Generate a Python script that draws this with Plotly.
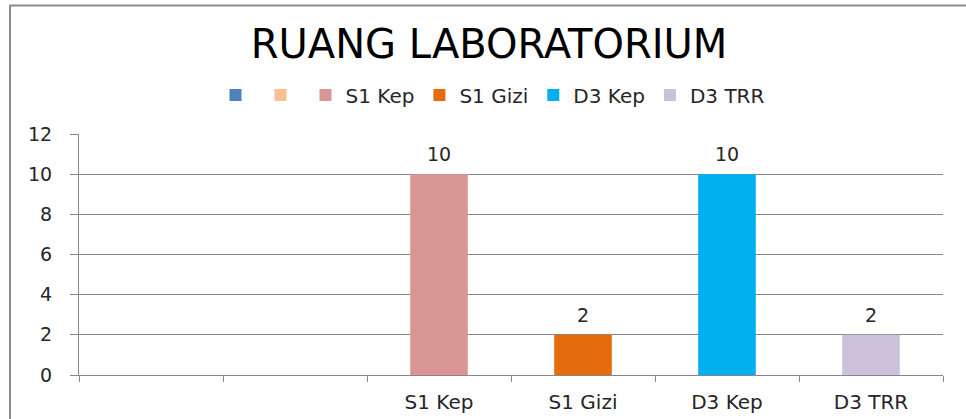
import plotly.graph_objects as go

title_text = "RUANG LABORATORIUM"
categories = [" ", "  ", "S1 Kep", "S1 Gizi", "D3 Kep", "D3 TRR"]
legend_names = ["", "", "S1 Kep", "S1 Gizi", "D3 Kep", "D3 TRR"]
values = [None, None, 10, 2, 10, 2]
colors = ["#4F81BD", "#FAC090", "#D99694", "#E46C0A", "#00B0F0", "#CCC1DA"]
y_ticks = [0, 2, 4, 6, 8, 10, 12]

FONT = "DejaVu Sans"
TXT = "#262626"
GRID = "#878787"

fig = go.Figure()
for cat, name, val, col in zip(categories, legend_names, values, colors):
    fig.add_trace(go.Bar(
        x=[cat], y=[val], name=name, marker=dict(color=col, line=dict(width=0)),
        width=0.4, showlegend=True, hoverinfo="skip",
    ))
    if val is not None:
        fig.add_annotation(x=cat, y=val, text=str(val), showarrow=False,
                           yshift=20, yanchor="middle",
                           font=dict(family=FONT, size=19, color=TXT))

fig.update_layout(
    width=966, height=419,
    margin=dict(l=79, r=23, t=134, b=44, autoexpand=False),
    paper_bgcolor="white", plot_bgcolor="white",
    barmode="overlay",
    title=dict(text=title_text, x=489 / 966, xref="container", xanchor="center",
               y=1 - 44 / 419, yref="container", yanchor="middle",
               font=dict(family=FONT, size=40, color="#000000")),
    legend=dict(orientation="h", xref="paper", x=(493 - 79) / 864, xanchor="center",
                y=(375 - 95) / 241, yanchor="middle",
                font=dict(family=FONT, size=20, color=TXT),
                bgcolor="rgba(0,0,0,0)"),
    xaxis=dict(categoryorder="array", categoryarray=categories,
               showline=True, linecolor=GRID, linewidth=1,
               ticks="outside", tickson="boundaries", ticklen=6, tickcolor=GRID,
               showgrid=False, tickfont=dict(family=FONT, size=20, color=TXT),
               tickangle=0, ticklabelstandoff=9, fixedrange=True),
    yaxis=dict(range=[0, 12], tickvals=y_ticks, showline=True, linecolor=GRID, linewidth=1,
               ticks="outside", ticklen=8, tickcolor=GRID,
               showgrid=True, gridcolor=GRID, gridwidth=1, zeroline=False,
               tickfont=dict(family=FONT, size=19, color=TXT),
               ticklabelstandoff=14, fixedrange=True),
    shapes=[dict(type="rect", xref="paper", yref="paper",
                 x0=(10 - 79) / 864, x1=(980 - 79) / 864,
                 y0=-0.4, y1=(375 - 5.5) / 241,
                 line=dict(color="#8C8C8C", width=2), fillcolor="rgba(0,0,0,0)",
                 layer="below")],
)

fig.write_html("out.html", config={"displayModeBar": False, "staticPlot": True},
               post_script="document.body.style.margin='0';document.body.style.overflow='hidden';")
